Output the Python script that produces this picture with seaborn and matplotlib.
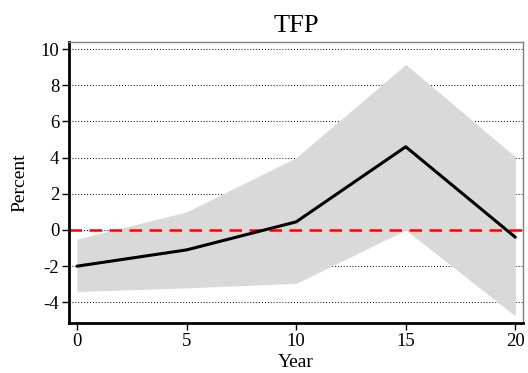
import matplotlib
matplotlib.use("Agg")
import matplotlib.pyplot as plt
import seaborn as sns
import pandas as pd

years = [0, 5, 10, 15, 20]
tfp = [-2.0, -1.1, 0.45, 4.6, -0.4]
upper = [-0.5, 1.0, 4.0, 9.15, 4.05]
lower = [-3.4, -3.2, -2.95, 0.0, -4.75]
yticks = [-4, -2, 0, 2, 4, 6, 8, 10]
xticks = [0, 5, 10, 15, 20]

sns.set_theme(style="white")
plt.rcParams['font.family'] = ['Liberation Serif', 'DejaVu Serif']
plt.rcParams['axes.unicode_minus'] = False
plt.rcParams['text.color'] = 'black'
plt.rcParams['axes.labelcolor'] = 'black'

df = pd.DataFrame({"Year": years, "TFP": tfp})

fig = plt.figure(figsize=(5.28, 3.73), dpi=100)
ax = fig.add_axes([69/528, 1-323/373, (523-69)/528, (323-42)/373])

ax.fill_between(years, lower, upper, color="#d9d9d9", linewidth=0, zorder=1)
for t in yticks:
    ax.axhline(t, color="black", linestyle=(0, (1, 2)), linewidth=0.7, zorder=0.5)
ax.axhline(0, color="red", linestyle=(0, (5, 3)), linewidth=1.8, zorder=2)
sns.lineplot(data=df, x="Year", y="TFP", ax=ax, color="black", linewidth=2.2, zorder=3)

ax.set_xlim(-0.365, 20.35)
ax.set_ylim(-5.14, 10.39)
ax.set_xticks(xticks)
ax.set_yticks(yticks)
ax.tick_params(axis="both", direction="out", length=5, width=1, labelsize=13.5, colors="black",
               bottom=True, left=True, top=False, right=False, pad=2)
for s in ["left", "bottom"]:
    ax.spines[s].set_color("black")
    ax.spines[s].set_linewidth(2)
for s in ["top", "right"]:
    ax.spines[s].set_color("#808080")
    ax.spines[s].set_linewidth(1)
ax.set_xlabel("Year", fontsize=14, labelpad=3)
ax.set_ylabel("Percent", fontsize=14, labelpad=9)
ax.set_title("TFP", fontsize=19, pad=7, color="black")

fig.savefig("out.png", dpi=100)
